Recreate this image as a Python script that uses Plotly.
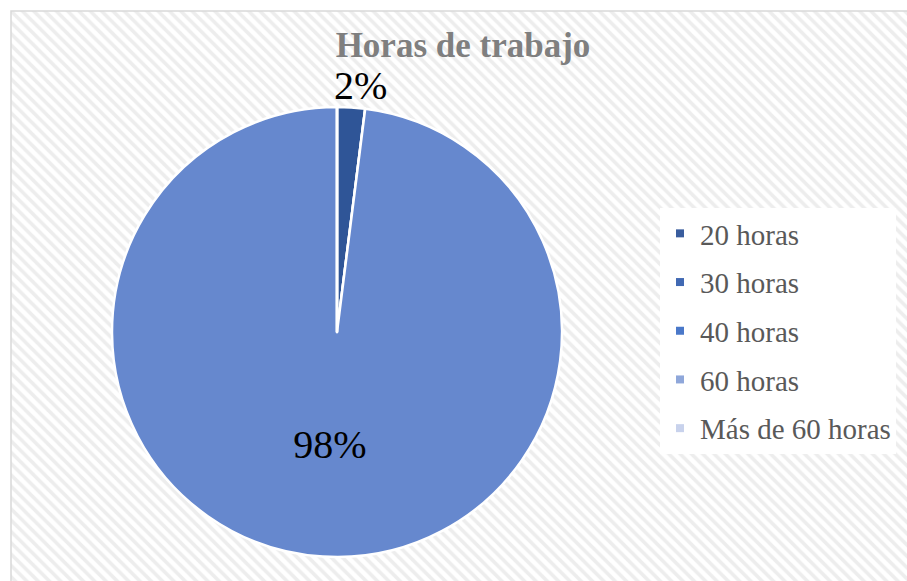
import math
import plotly.graph_objects as go

categories = ["20 horas", "30 horas", "40 horas", "60 horas", "Más de 60 horas"]
values = [2, 0, 98, 0, 0]
colors = ["#2F5597", "#3B63AE", "#6688CE", "#8FAADC", "#C9D4EE"]
legend_colors = ["#3A5D9E", "#4169B3", "#4A78C9", "#8FA7DA", "#C8D2EC"]
title_text = "Horas de trabajo"

W, H = 907, 581
SERIF = "Liberation Serif"
# pie geometry (pixels)
pie_left, pie_right, pie_top, pie_bottom = 112, 562, 107, 557
cx, cy = (pie_left + pie_right) / 2, (pie_top + pie_bottom) / 2
r = (pie_right - pie_left) / 2

fig = go.Figure()

# patterned chart-area background
fig.add_trace(go.Scatter(
    x=[11 / W, 1.01, 1.01, 11 / W, 11 / W], y=[-0.01, -0.01, 1 - 11 / H, 1 - 11 / H, -0.01],
    mode="lines", fill="toself", line=dict(color="#D9D9D9", width=1.5),
    fillcolor="white",
    fillpattern=dict(shape="\\", fgcolor="#DCDCDC", bgcolor="white", size=8, solidity=0.45),
    hoverinfo="skip", showlegend=False,
))

total = sum(values)
inside = [v / total >= 0.5 for v in values]
fig.add_trace(go.Pie(
    labels=categories, values=values, sort=False, direction="clockwise", rotation=0,
    marker=dict(colors=colors, line=dict(color="white", width=2.5)),
    texttemplate="%{percent:.0%}",
    textposition=["inside" if i else "none" for i in inside],
    insidetextorientation="horizontal",
    textfont=dict(family=SERIF, size=40, color="black"),
    insidetextfont=dict(family=SERIF, size=40, color="black"),
    domain=dict(x=[pie_left / W, pie_right / W], y=[1 - pie_bottom / H, 1 - pie_top / H]),
    showlegend=False, hole=0,
))

# outside labels for small slices, placed from the data angle
acc = 0
for v in values:
    if v > 0 and v / total < 0.5:
        mid = math.radians(360 * (acc + v / 2) / total)
        px = cx + (r + 4) * math.sin(mid)
        py = cy - (r + 4) * math.cos(mid)
        fig.add_annotation(
            x=px / W, y=1 - py / H, xref="paper", yref="paper",
            text=f"{round(100 * v / total)}%", showarrow=False,
            xanchor="center", yanchor="bottom", xshift=9, yshift=-7,
            font=dict(family=SERIF, size=40, color="black"),
        )
    acc += v

for name, c in zip(categories, legend_colors):
    fig.add_trace(go.Scatter(
        x=[None], y=[None], mode="markers", name=name, legendgroup=name,
        marker=dict(symbol="square", size=8, color=c),
    ))

fig.update_layout(
    width=W, height=H, margin=dict(l=0, r=0, t=0, b=0),
    paper_bgcolor="white", plot_bgcolor="rgba(0,0,0,0)",
    xaxis=dict(range=[0, 1], visible=False, fixedrange=True, domain=[0, 1]),
    yaxis=dict(range=[0, 1], visible=False, fixedrange=True, domain=[0, 1]),
    title=dict(text="<b>" + title_text + "</b>", x=463 / W, xanchor="center",
               y=1 - 45 / H, yanchor="middle", yref="container",
               font=dict(family=SERIF, size=35, color="#7F7F7F")),
    legend=dict(x=660 / W, xanchor="left", y=1 - 208 / H, yanchor="top",
                bgcolor="white", tracegroupgap=8, itemwidth=30,
                font=dict(family=SERIF, size=29, color="#595959")),
    showlegend=True,
)

fig.write_html("out.html", config={"displayModeBar": False},
               post_script="document.body.style.margin='0';")
